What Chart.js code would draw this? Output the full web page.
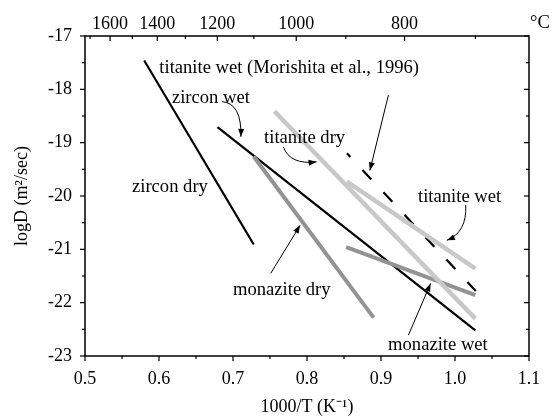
<!DOCTYPE html>
<html><head><meta charset="utf-8">
<script src="https://cdn.jsdelivr.net/npm/chart.js@4/dist/chart.umd.min.js"></script>
<style>html,body{margin:0;padding:0;background:#fff}</style>
</head><body>
<canvas id="c" width="560" height="420"></canvas>
<script>
// ---- data (x = 1000/T in 1/K, y = logD in m^2/sec) ----
const zirconDryX = [0.580, 0.728];   const zirconDryY = [-17.46, -20.91];
const zirconWetX = [0.679, 1.0275];  const zirconWetY = [-18.71, -22.52];
const monaziteDryX = [0.728, 0.890]; const monaziteDryY = [-19.26, -22.28];
const monaziteWetX = [0.853, 1.0275];const monaziteWetY = [-20.96, -21.86];
const titaniteDryX = [0.756, 1.0275];const titaniteDryY = [-18.41, -22.30];
const titaniteWetX = [0.854, 1.0275];const titaniteWetY = [-19.73, -21.36];
const morishitaX = [0.854, 1.028];   const morishitaY = [-19.20, -21.78];

// ---- ticks ----
const xMajor = [0.5, 0.6, 0.7, 0.8, 0.9, 1.0, 1.1];
const xMinor = [0.55, 0.65, 0.75, 0.85, 0.95, 1.05];
const yMajor = [-23, -22, -21, -20, -19, -18, -17];
const yMinor = [-22.5, -21.5, -20.5, -19.5, -18.5, -17.5];
const topLabeledC = [1600, 1400, 1200, 1000, 800];
const topMinorC = [1700, 1500, 1300, 1100, 900, 700];

// ---- annotations ----
const labelText = ['titanite wet (Morishita et al., 1996)', 'zircon wet', 'titanite dry', 'zircon dry', 'titanite wet', 'monazite dry', 'monazite wet'];
const labelX = [0.6004, 0.6175, 0.742, 0.5635, 0.950, 0.700, 0.9096];
const labelY = [-17.60, -18.16, -18.91, -19.83, -20.02, -21.77, -22.80];
// arrows: start, optional control (null = straight), head
const arrowStartX = [0.685, 0.768, 0.910, 1.0145, 0.751, 0.937];
const arrowStartY = [-18.23, -19.08, -18.11, -20.17, -21.45, -22.61];
const arrowCtrlX  = [0.712, 0.777, null, 1.0163, null, null];
const arrowCtrlY  = [-18.26, -19.42, null, -20.68, null, null];
const arrowEndX   = [0.7107, 0.813, 0.885, 0.989, 0.7907, 0.967];
const arrowEndY   = [-18.89, -19.36, -19.52, -20.83, -20.55, -21.64];

const FONT = '"Liberation Serif", "Times New Roman", serif';
const BLACK = '#000000', MID = '#939393', LIGHT = '#c8c8c8';

function pts(xs, ys){ return xs.map((v,i)=>({x:v, y:ys[i]})); }
function ds(xs, ys, color, w, dash){
  return {data: pts(xs, ys), borderColor: color, borderWidth: w, pointRadius: 0,
          borderDash: dash || [], borderDashOffset: dash ? 8 : 0, fill: false, tension: 0, borderCapStyle: 'butt'};
}
const toX = c => 1000 / (c + 273.15);

const decor = {
  id: 'decor',
  afterDatasetsDraw(chart){
    const {ctx, chartArea: a, scales} = chart;
    const sx = scales.x, sy = scales.y;
    const px = v => sx.getPixelForValue(v), py = v => sy.getPixelForValue(v);
    ctx.save();
    // text labels
    ctx.fillStyle = BLACK;
    ctx.font = '18.6px ' + FONT;
    ctx.textBaseline = 'middle';
    ctx.textAlign = 'left';
    labelText.forEach((t,i)=>ctx.fillText(t, px(labelX[i]), py(labelY[i])));
    // arrows
    ctx.strokeStyle = BLACK; ctx.lineWidth = 1;
    for (let i=0;i<arrowStartX.length;i++){
      const x0=px(arrowStartX[i]), y0=py(arrowStartY[i]);
      const x1=px(arrowEndX[i]), y1=py(arrowEndY[i]);
      let fx=x0, fy=y0;
      ctx.beginPath(); ctx.moveTo(x0,y0);
      if (arrowCtrlX[i] !== null){
        const cx=px(arrowCtrlX[i]), cy=py(arrowCtrlY[i]);
        ctx.quadraticCurveTo(cx,cy,x1,y1); fx=cx; fy=cy;
      } else ctx.lineTo(x1,y1);
      ctx.stroke();
      const ang = Math.atan2(y1-fy, x1-fx), L=8, W=3;
      ctx.beginPath();
      ctx.moveTo(x1,y1);
      ctx.lineTo(x1 - L*Math.cos(ang) + W*Math.sin(ang), y1 - L*Math.sin(ang) - W*Math.cos(ang));
      ctx.lineTo(x1 - L*Math.cos(ang) - W*Math.sin(ang), y1 - L*Math.sin(ang) + W*Math.cos(ang));
      ctx.closePath(); ctx.fill();
    }
    // frame
    ctx.lineWidth = 1.5;
    ctx.strokeRect(a.left, a.top, a.right-a.left, a.bottom-a.top);
    // ticks
    ctx.lineWidth = 1.2;
    const line=(x0,y0,x1,y1)=>{ctx.beginPath();ctx.moveTo(x0,y0);ctx.lineTo(x1,y1);ctx.stroke();};
    xMajor.forEach(v=>line(px(v),a.bottom,px(v),a.bottom+5));
    xMinor.forEach(v=>line(px(v),a.bottom,px(v),a.bottom+3));
    yMajor.forEach(v=>{line(a.left,py(v),a.left-5,py(v)); line(a.right,py(v),a.right-5,py(v));});
    yMinor.forEach(v=>{line(a.left,py(v),a.left-3,py(v)); line(a.right,py(v),a.right-3,py(v));});
    topLabeledC.forEach(c=>line(px(toX(c)),a.top,px(toX(c)),a.top+5));
    topMinorC.forEach(c=>line(px(toX(c)),a.top,px(toX(c)),a.top+3));
    // unit label of top axis
    ctx.font = '18.6px ' + FONT;
    ctx.textAlign = 'left'; ctx.textBaseline = 'middle';
    ctx.fillText('°C', a.right + 1, a.top - 13);
    ctx.restore();
  }
};

new Chart(document.getElementById('c'), {
  type: 'line',
  data: { datasets: [
    ds(titaniteDryX, titaniteDryY, LIGHT, 4.5),
    ds(titaniteWetX, titaniteWetY, LIGHT, 4.5),
    ds(monaziteDryX, monaziteDryY, MID, 4),
    ds(monaziteWetX, monaziteWetY, MID, 4),
    ds(zirconDryX, zirconDryY, BLACK, 2.2),
    ds(zirconWetX, zirconWetY, BLACK, 2.2),
    ds(morishitaX, morishitaY, BLACK, 2.2, [13, 17.7])
  ]},
  options: {
    responsive: false, animation: false, devicePixelRatio: 1,
    layout: { padding: { left: 0, right: 31, top: 0, bottom: 0 } },
    plugins: { legend: { display: false }, tooltip: { enabled: false } },
    scales: {
      x: {
        type: 'linear', position: 'bottom', min: 0.5, max: 1.1,
        afterBuildTicks: ax => { ax.ticks = xMajor.map(v=>({value:v})); },
        afterFit: ax => { ax.height = 64; },
        grid: { display: false, drawTicks: false }, border: { display: false },
        ticks: { color: BLACK, padding: 12, maxRotation: 0, autoSkip: false,
                 font: { family: FONT, size: 18 }, callback: v => v.toFixed(1) },
        title: { display: true, text: '1000/T (K⁻¹)', color: BLACK, font: { family: FONT, size: 18 }, padding: { top: 0, bottom: 2 } }
      },
      x2: {
        type: 'linear', position: 'top', min: 0.5, max: 1.1,
        afterBuildTicks: ax => { ax.ticks = topLabeledC.map(c=>({value:toX(c)})); },
        afterFit: ax => { ax.height = 36; },
        grid: { display: false, drawTicks: false }, border: { display: false },
        ticks: { color: BLACK, padding: 1, maxRotation: 0, autoSkip: false,
                 font: { family: FONT, size: 18 }, callback: v => String(Math.round((1000 / v - 273.15) / 100) * 100) }
      },
      y: {
        type: 'linear', position: 'left', min: -23, max: -17,
        afterBuildTicks: ax => { ax.ticks = yMajor.map(v=>({value:v})); },
        afterFit: ax => { ax.width = 85; },
        grid: { display: false, drawTicks: false }, border: { display: false },
        ticks: { color: BLACK, padding: 13, autoSkip: false,
                 font: { family: FONT, size: 18 }, callback: v => String(v) },
        title: { display: true, text: 'logD (m²/sec)', color: BLACK, font: { family: FONT, size: 18 }, padding: { top: 11, bottom: 0 } }
      }
    }
  },
  plugins: [decor]
});
</script>
</body></html>
